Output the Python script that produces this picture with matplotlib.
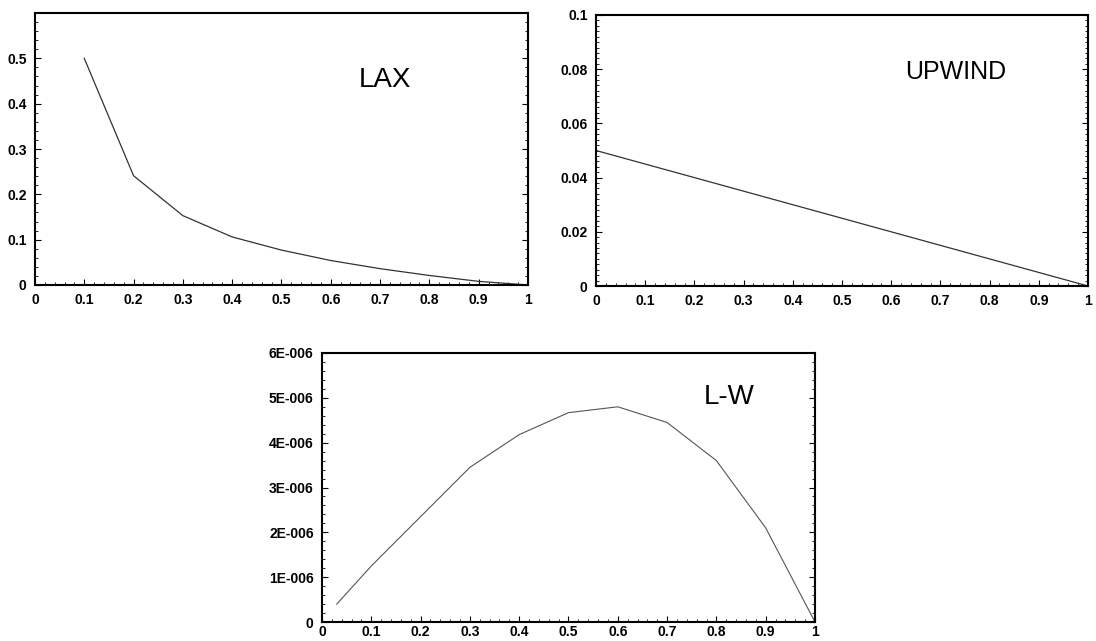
import matplotlib
matplotlib.use("Agg")
import matplotlib.pyplot as plt
from matplotlib.ticker import AutoMinorLocator

plt.rcParams['font.family'] = ['Liberation Sans', 'DejaVu Sans']

# LAX error vs courant number
lax_x = [0.1, 0.2, 0.3, 0.4, 0.5, 0.6, 0.7, 0.8, 0.9, 1.0]
lax_y = [0.5, 0.241, 0.153, 0.106, 0.077, 0.054, 0.036, 0.021, 0.008, 0.0]

# UPWIND
up_x = [0.0, 0.1, 0.2, 0.3, 0.4, 0.5, 0.6, 0.7, 0.8, 0.9, 1.0]
up_y = [0.05, 0.045, 0.04, 0.035, 0.03, 0.025, 0.02, 0.015, 0.01, 0.005, 0.0]

# L-W (units of 1E-006)
lw_x = [0.03, 0.1, 0.2, 0.3, 0.4, 0.5, 0.6, 0.7, 0.8, 0.9, 1.0]
lw_y = [0.4, 1.25, 2.35, 3.45, 4.18, 4.67, 4.8, 4.45, 3.6, 2.1, 0.0]

x_ticks = [0, 0.1, 0.2, 0.3, 0.4, 0.5, 0.6, 0.7, 0.8, 0.9, 1]
x_labels = ['0', '0.1', '0.2', '0.3', '0.4', '0.5', '0.6', '0.7', '0.8', '0.9', '1']
lax_yticks = [0, 0.1, 0.2, 0.3, 0.4, 0.5]
lax_ylabels = ['0', '0.1', '0.2', '0.3', '0.4', '0.5']
up_yticks = [0, 0.02, 0.04, 0.06, 0.08, 0.1]
up_ylabels = ['0', '0.02', '0.04', '0.06', '0.08', '0.1']
lw_yticks = [0, 1, 2, 3, 4, 5, 6]
lw_ylabels = ['0', '1E-006', '2E-006', '3E-006', '4E-006', '5E-006', '6E-006']

fig = plt.figure(figsize=(10.96, 6.41), dpi=100)
ax1 = fig.add_axes([0.0319, 0.5554, 0.4498, 0.4243])
ax2 = fig.add_axes([0.5438, 0.5538, 0.4489, 0.4228])
ax3 = fig.add_axes([0.2938, 0.0296, 0.4498, 0.4197])


def style(ax, yt, yl, ymax, ny, xpad=6):
    ax.set_xlim(0, 1)
    ax.set_ylim(0, ymax)
    ax.set_xticks(x_ticks)
    ax.set_xticklabels(x_labels)
    ax.set_yticks(yt)
    ax.set_yticklabels(yl)
    ax.xaxis.set_minor_locator(AutoMinorLocator(5))
    ax.yaxis.set_minor_locator(AutoMinorLocator(ny))
    ax.tick_params(which='both', direction='in', top=False, right=True,
                   labelsize=10)
    ax.tick_params(axis='y', pad=6)
    ax.tick_params(axis='x', pad=xpad)
    ax.tick_params(which='major', length=4, width=0.8)
    ax.tick_params(which='minor', length=2, width=0.6)
    for lab in ax.get_xticklabels() + ax.get_yticklabels():
        lab.set_fontweight('bold')
    for s in ax.spines.values():
        s.set_linewidth(1.5)


ax1.plot(lax_x, lax_y, color='#333333', lw=0.9)
style(ax1, lax_yticks, lax_ylabels, 0.6, 5)
ax1.text(0.71, 0.754, 'LAX', transform=ax1.transAxes, fontsize=20,
         ha='center', va='center')

ax2.plot(up_x, up_y, color='#333333', lw=0.9)
style(ax2, up_yticks, up_ylabels, 0.1, 10)
ax2.text(0.732, 0.79, 'UPWIND', transform=ax2.transAxes, fontsize=18,
         ha='center', va='center')

ax3.plot(lw_x, lw_y, color='#555555', lw=0.8)
style(ax3, lw_yticks, lw_ylabels, 6, 5, xpad=2)
ax3.text(0.826, 0.836, 'L-W', transform=ax3.transAxes, fontsize=20,
         ha='center', va='center')

fig.savefig('out.png', dpi=100)
